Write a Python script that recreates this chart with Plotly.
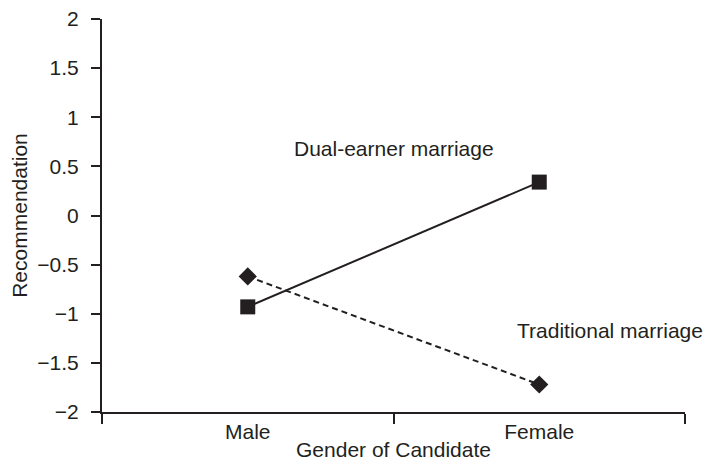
import plotly.graph_objects as go

categories = ["Male", "Female"]
dual_earner = [-0.93, 0.34]
traditional = [-0.62, -1.72]
y_ticks = [-2, -1.5, -1, -0.5, 0, 0.5, 1, 1.5, 2]
y_tick_labels = ["\u22122", "\u22121.5", "\u22121", "\u22120.5", "0", "0.5", "1", "1.5", "2"]

ink = "#231f20"
font_family = "Liberation Sans, Arial, Helvetica, sans-serif"
fs = 21

fig = go.Figure()
fig.add_trace(go.Scatter(
    x=categories, y=dual_earner, mode="lines+markers",
    line=dict(color=ink, width=2),
    marker=dict(symbol="square", size=15, color=ink),
    name="Dual-earner marriage", cliponaxis=False,
))
fig.add_trace(go.Scatter(
    x=categories, y=traditional, mode="lines+markers",
    line=dict(color=ink, width=2, dash="6px,4px"),
    marker=dict(symbol="diamond", size=14, color=ink),
    name="Traditional marriage", cliponaxis=False,
))

fig.add_annotation(x=0.5, y=0.68, xref="x", yref="y", text="Dual-earner marriage",
                   showarrow=False, font=dict(size=fs, color=ink, family=font_family))
fig.add_annotation(x=0.917, y=-1.17, xref="x", yref="y", text="Traditional marriage",
                   showarrow=False, xanchor="left",
                   font=dict(size=fs, color=ink, family=font_family))

fig.update_layout(
    width=712, height=464,
    margin=dict(l=94, r=35, t=11, b=60, autoexpand=False),
    paper_bgcolor="white", plot_bgcolor="white",
    showlegend=False,
    font=dict(family=font_family, size=fs, color=ink),
)
fig.update_xaxes(
    type="category", range=[-0.5, 1.5], automargin=False,
    showline=True, linecolor=ink, linewidth=2,
    ticks="outside", tickson="boundaries", ticklen=10, tickwidth=2, tickcolor=ink,
    showgrid=False, zeroline=False, ticklabeloverflow="allow",
    title=dict(text="Gender of Candidate", standoff=0, font=dict(size=fs)),
    tickfont=dict(size=fs),
)
fig.update_yaxes(
    range=[-2, 2], tickvals=y_ticks, ticktext=y_tick_labels, automargin=False,
    showline=True, linecolor=ink, linewidth=2,
    ticks="outside", ticklen=9, tickwidth=2, tickcolor=ink,
    ticklabelstandoff=8, ticklabeloverflow="allow",
    showgrid=False, zeroline=False,
    title=dict(text="Recommendation", standoff=11, font=dict(size=fs)),
    tickfont=dict(size=fs),
)

fig.write_html("out.html")
